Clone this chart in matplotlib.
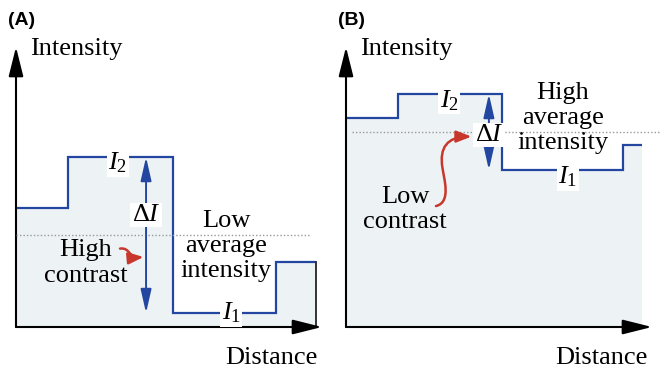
import numpy as np
import matplotlib
matplotlib.use("Agg")
import matplotlib.pyplot as plt
from matplotlib.path import Path
from matplotlib.patches import FancyArrowPatch

##########################################
# data (distance 0..10, intensity 0..10) #
##########################################
edges_a  = [0, 1.70, 5.13, 8.50, 9.80]
levels_a = [4.25, 6.07, 0.50, 2.32]
mean_a   = 3.29

edges_b  = [0, 1.70, 5.10, 9.05, 9.67]
levels_b = [7.46, 8.32, 5.61, 6.50]
mean_b   = 6.96

BLUE = "#2347a0"
FILL = "#edf2f5"
RED  = "#c8372b"
FONT = "Liberation Serif"
FS   = 19

plt.rcParams['font.family'] = [FONT, 'DejaVu Serif']
plt.rcParams['mathtext.fontset'] = 'custom'
plt.rcParams['mathtext.rm'] = FONT
plt.rcParams['mathtext.it'] = FONT + ':italic'

W, H = 660, 368
fig = plt.figure(figsize=(6.6, 3.68), dpi=100)

def make_axes(x0):
    # x0 = pixel position of y axis, axes 306 px wide and 280 px tall
    ax = fig.add_axes([x0/W, (H-327)/H, 306/W, 280/H])
    ax.set_xlim(0, 10)
    ax.set_ylim(0, 10)
    ax.axis("off")
    # axis arrows
    arr = dict(arrowstyle="-|>,head_length=1.2,head_width=0.3", color="black",
               lw=1.5, mutation_scale=15, shrinkA=0, shrinkB=0)
    ax.annotate("", xy=(0, 1.0), xytext=(0, 0), xycoords="axes fraction",
                arrowprops=arr, annotation_clip=False)
    ax.annotate("", xy=(1.0, 0), xytext=(0, 0), xycoords="axes fraction",
                arrowprops=arr, annotation_clip=False)
    ax.text(0.46, 9.93, "Intensity", fontsize=FS, ha="left", va="center")
    ax.text(9.87, -1.1, "Distance", fontsize=FS, ha="right", va="center",
            clip_on=False)
    return ax

def draw_profile(ax, edges, levels, mean, dot_x):
    ax.stairs(levels, edges, fill=True, color=FILL, zorder=1)
    ax.stairs(levels, edges, baseline=None, color=BLUE, lw=1.6, zorder=2)
    ax.plot(dot_x, [mean, mean], ls=(0, (1, 1.5)), color="#999999", lw=1.0,
            clip_on=False, zorder=3)

def delta_arrow(ax, x, top, bottom, label_y):
    ax.annotate("", xy=(x, top), xytext=(x, bottom),
                arrowprops=dict(arrowstyle="<|-|>,head_length=1.1,head_width=0.25",
                                color=BLUE, lw=1.4, mutation_scale=13,
                                shrinkA=0, shrinkB=0), zorder=4)
    ax.text(x, label_y, r"$\Delta I$", fontsize=FS, ha="center", va="center",
            bbox=dict(facecolor="white", edgecolor="none", pad=1), zorder=5)

def level_label(ax, x, y, s):
    ax.text(x, y, s, fontsize=FS, ha="center", va="center",
            bbox=dict(facecolor="white", edgecolor="none", pad=1), zorder=5)

def red_curve(ax, verts):
    codes = [Path.MOVETO] + [Path.CURVE4] * (len(verts) - 1)
    p = FancyArrowPatch(path=Path(verts, codes),
                        arrowstyle="-|>,head_length=0.9,head_width=0.35",
                        color=RED, lw=1.8, mutation_scale=10, zorder=6)
    ax.add_patch(p)

################# panel A #################
ax_a = make_axes(16)
draw_profile(ax_a, edges_a, levels_a, mean_a, [0, 9.6])
ax_a.plot([edges_a[-1], edges_a[-1]], [0, levels_a[-1]], color="#333333",
          lw=1.4, zorder=2)
delta_arrow(ax_a, 4.25, max(levels_a), min(levels_a), 4.0)
level_label(ax_a, 3.33, 5.86, r"$I_2$")
level_label(ax_a, 7.03, 0.50, r"$I_1$")
ax_a.text(2.29, 2.29, "High\ncontrast", fontsize=FS, ha="center",
          va="center", linespacing=1.22)
ax_a.text(6.86, 2.89, "Low\naverage\nintensity", fontsize=FS, ha="center",
          va="center", linespacing=1.18)
red_curve(ax_a, [(3.40, 2.80), (3.75, 2.85), (3.65, 2.45), (4.17, 2.50)])
ax_a.text(-0.26, 10.95, "(A)", fontsize=14, fontweight="bold",
          family="Liberation Sans", ha="left", va="center")

################# panel B #################
ax_b = make_axes(346)
draw_profile(ax_b, edges_b, levels_b, mean_b, [0.2, 10.26])
delta_arrow(ax_b, 4.67, max(levels_b), min(levels_b), 6.86)
level_label(ax_b, 3.37, 8.10, r"$I_2$")
level_label(ax_b, 7.25, 5.36, r"$I_1$")
ax_b.text(7.09, 7.46, "High\naverage\nintensity", fontsize=FS, ha="center",
          va="center", linespacing=1.18)
ax_b.text(1.93, 4.20, "Low\ncontrast", fontsize=FS, ha="center",
          va="center", linespacing=1.22)
red_curve(ax_b, [(2.94, 4.32), (3.45, 4.45), (3.20, 5.30), (3.15, 5.70),
                 (3.05, 6.40), (3.30, 6.80), (4.10, 6.80)])
ax_b.text(-0.26, 10.95, "(B)", fontsize=14, fontweight="bold",
          family="Liberation Sans", ha="left", va="center")

fig.savefig("out.png", dpi=100)
